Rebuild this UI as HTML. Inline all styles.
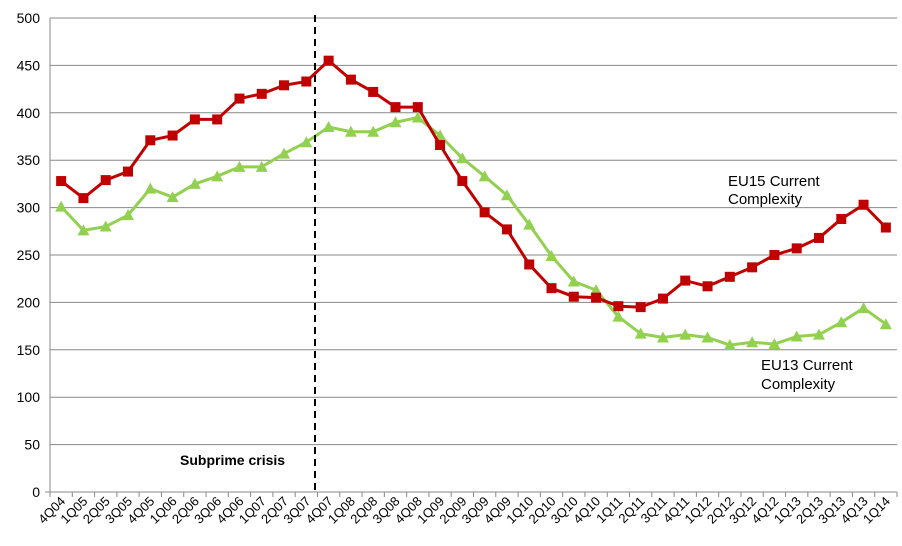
<!DOCTYPE html>
<html><head><meta charset="utf-8"><style>body{margin:0;background:#fff}svg{display:block}text{font-family:"Liberation Sans",Arial,sans-serif}</style></head>
<body>
<svg id="c" width="902" height="546" xmlns="http://www.w3.org/2000/svg"></svg>
<script>
const s=document.getElementById('c');let h='';
const X0=50,X1=897,Y0=492,k=0.948,n=38,w=(X1-X0)/n;
const y=v=>Y0-v*k, x=i=>X0+w*(i+0.5);
for(let v=50;v<=500;v+=50)h+=`<line x1="${X0}" x2="${X1}" y1="${y(v)}" y2="${y(v)}" stroke="#888" stroke-width="1"/>`;
for(let v=0;v<=500;v+=50)h+=`<text x="40" y="${y(v)+5}" font-size="14" text-anchor="end">${v}</text>`;
h+=`<line x1="${X0}" x2="${X0}" y1="${y(500)}" y2="${Y0}" stroke="#888"/><line x1="${X0-5}" x2="${X1}" y1="${Y0}" y2="${Y0}" stroke="#888"/>`;
for(let i=0;i<=n;i++)h+=`<line x1="${X0+w*i}" x2="${X0+w*i}" y1="${Y0}" y2="${Y0+5}" stroke="#888"/>`;
const labs=['4Q04'];for(let yr=5;yr<=13;yr++)for(let q=1;q<=4;q++)labs.push(q+'Q'+String(yr).padStart(2,'0'));labs.push('1Q14');
labs.forEach((l,i)=>{const cx=x(i)+5,cy=Y0+10;h+=`<text x="${cx}" y="${cy}" font-size="13" text-anchor="end" transform="rotate(-45 ${cx} ${cy})">${l}</text>`});
const r=[328,310,329,338,371,376,393,393,415,420,429,433,455,435,422,406,406,366,328,295,277,240,215,206,205,196,195,204,223,217,227,237,250,257,268,288,303,279];
const g=[301,276,280,292,320,311,325,333,343,343,357,369,385,380,380,390,395,376,352,333,313,282,249,222,213,185,167,163,166,163,155,158,156,164,166,179,194,177];
h+=`<polyline fill="none" stroke="#92d050" stroke-width="3" points="${g.map((v,i)=>x(i)+','+y(v)).join(' ')}"/>`;
g.forEach((v,i)=>{const a=x(i),b=y(v);h+=`<polygon fill="#92d050" points="${a},${b-6} ${a-6},${b+5} ${a+6},${b+5}"/>`});
h+=`<polyline fill="none" stroke="#c00000" stroke-width="3" points="${r.map((v,i)=>x(i)+','+y(v)).join(' ')}"/>`;
r.forEach((v,i)=>{h+=`<rect x="${x(i)-5}" y="${y(v)-5}" width="10" height="10" fill="#c00000"/>`});
h+=`<line x1="315" x2="315" y1="15" y2="${Y0}" stroke="#000" stroke-width="2" stroke-dasharray="7,5"/>`;
h+=`<text x="180" y="465" font-size="14" font-weight="bold">Subprime crisis</text>`;
h+=`<text x="728" y="186" font-size="15">EU15 Current</text><text x="728" y="204" font-size="15">Complexity</text>`;
h+=`<text x="761" y="370" font-size="15">EU13 Current</text><text x="761" y="389" font-size="15">Complexity</text>`;
s.innerHTML=h;
</script>
</body></html>
